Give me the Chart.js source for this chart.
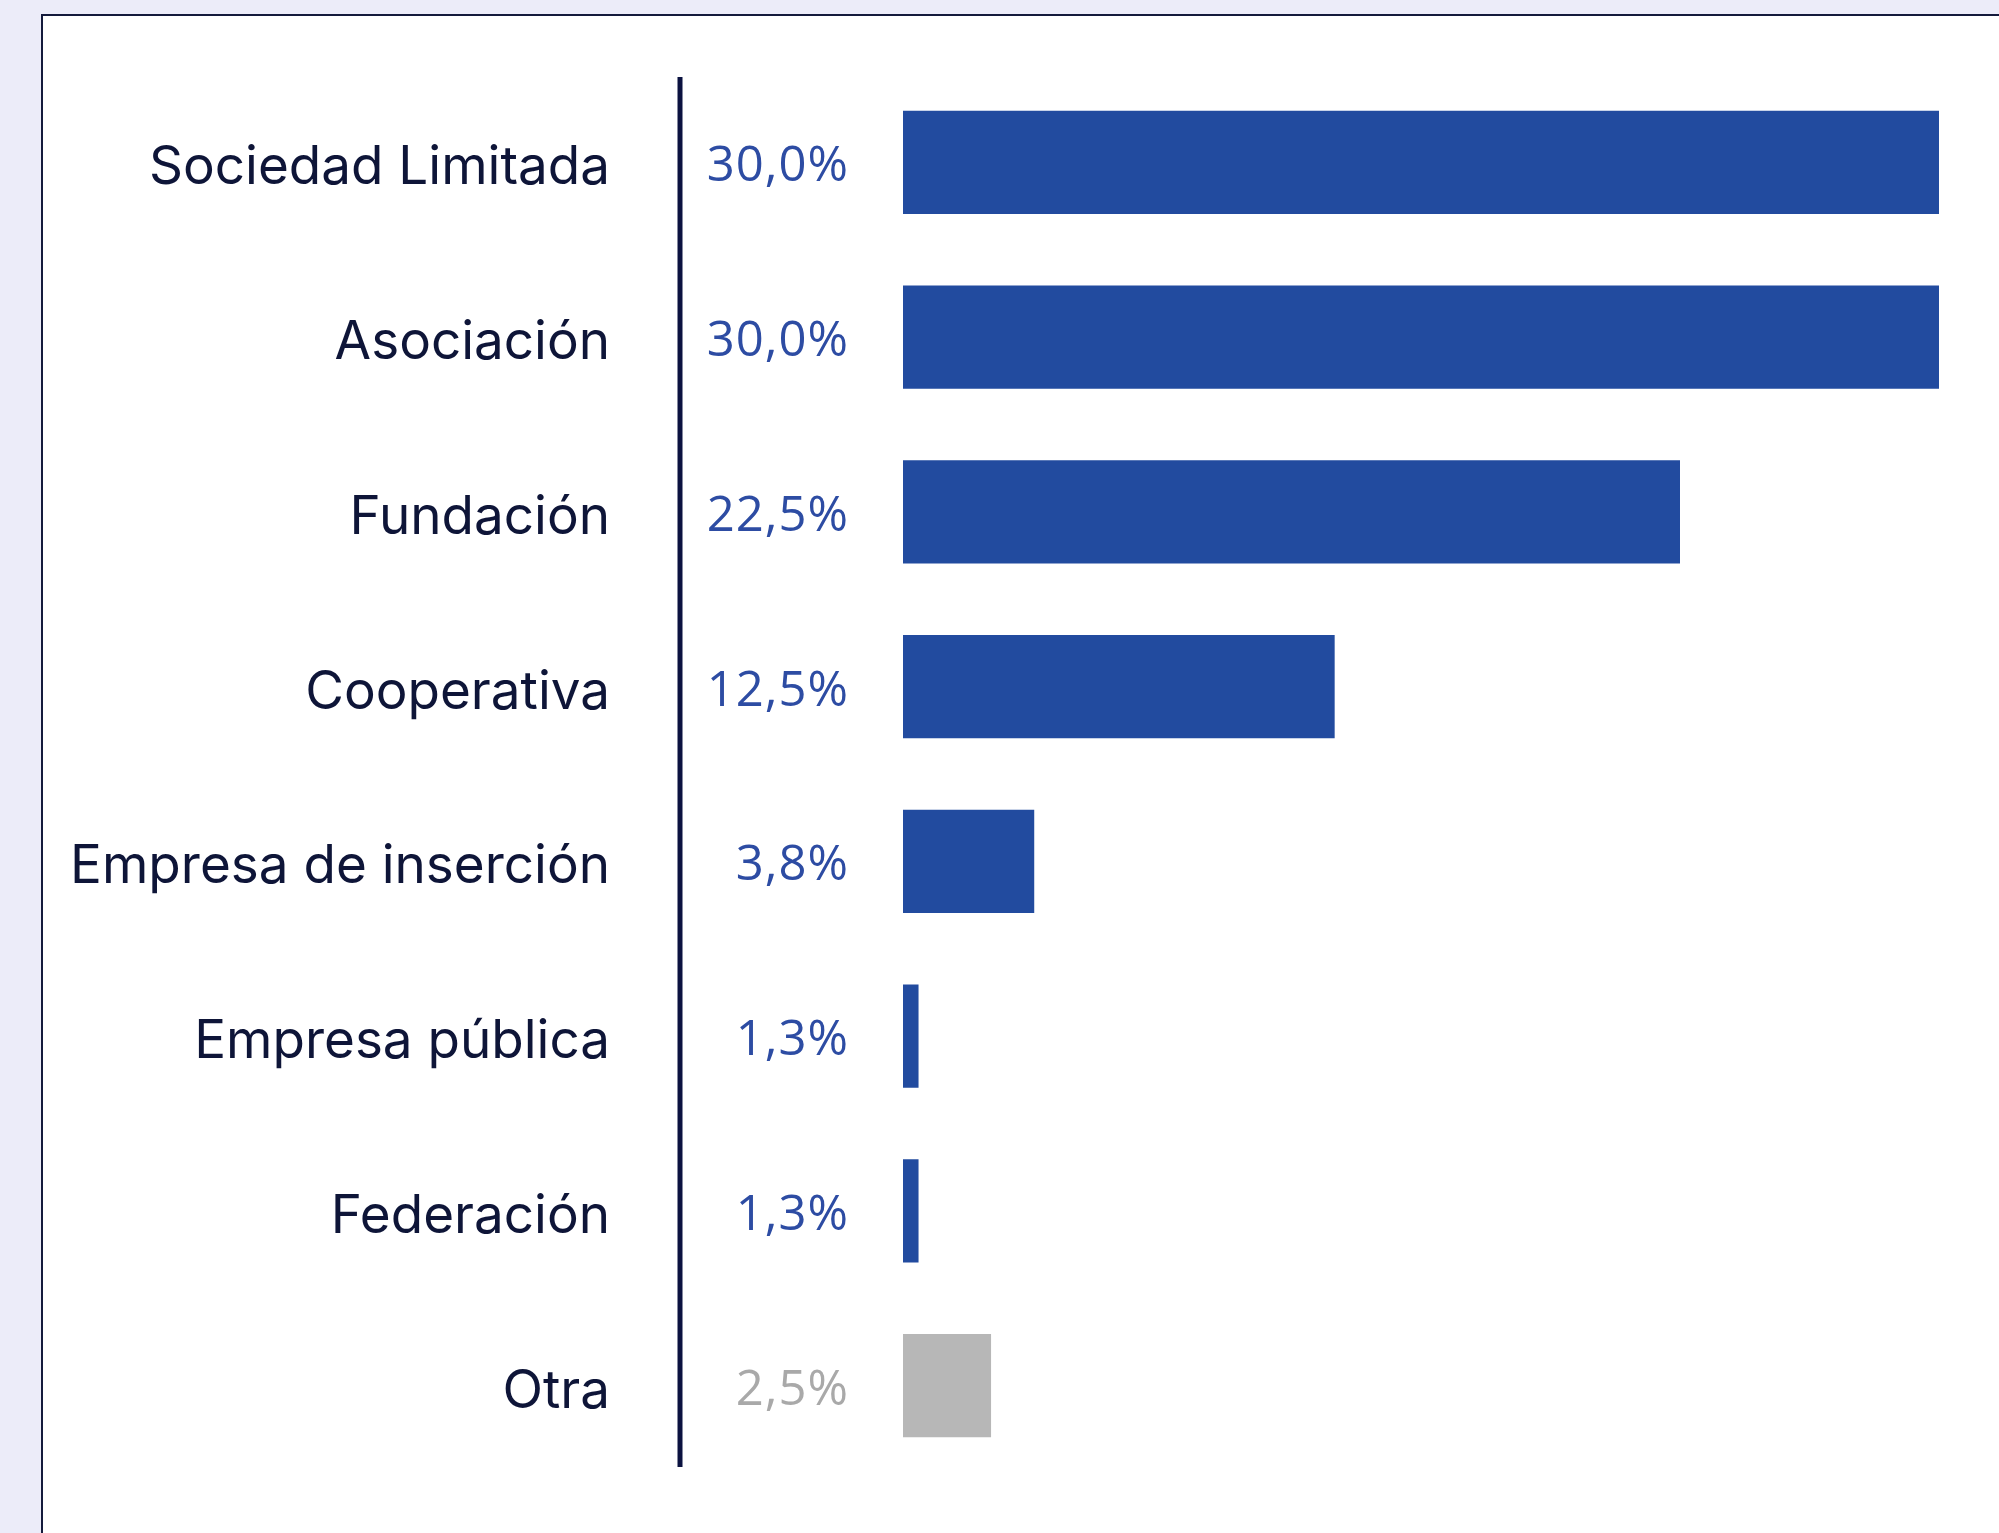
<!DOCTYPE html>
<html>
<head>
<meta charset="utf-8">
<script src="https://cdn.jsdelivr.net/npm/chart.js@4.4.1/dist/chart.umd.min.js"></script>
<style>
	html, body { margin: 0; padding: 0; }
	body { width: 1999px; height: 1533px; background: #ececf9; position: relative; overflow: hidden; }
	.card { position: absolute; left: 41px; top: 14px; width: 2100px; height: 1600px; background: #fff; border: 2px solid #141a3c; }
	#chart { position: absolute; left: 0; top: 0; }
</style>
</head>
<body>
<div class="card"></div>
<canvas id="chart" width="1999" height="1533"></canvas>
<script>
// categorías (forma jurídica)
const categories = ['Sociedad Limitada', 'Asociación', 'Fundación', 'Cooperativa', 'Empresa de inserción', 'Empresa pública', 'Federación', 'Otra'];
// porcentaje mostrado en el texto
const shares = [30.0, 30.0, 22.5, 12.5, 3.8, 1.3, 1.3, 2.5];
// longitud de barra tal como aparece dibujada
const barLengths = [30.0, 30.0, 22.5, 12.5, 3.8, 0.45, 0.45, 2.55];
const barColors = ['#224b9f', '#224b9f', '#224b9f', '#224b9f', '#224b9f', '#224b9f', '#224b9f', '#b7b7b7'];
const labelColors = ['#2d4ca3', '#2d4ca3', '#2d4ca3', '#2d4ca3', '#2d4ca3', '#2d4ca3', '#2d4ca3', '#a9a9a9'];

const AXIS_X = 680;
const NAME_RIGHT = 612;
const VALUE_RIGHT = 848;

function fmt(v){
	return v.toFixed(1).replace('.', ',') + '%';
}

/** nombres, línea vertical y etiquetas de porcentaje */
const extrasPlugin = {
	id: 'extras',
	afterDatasetsDraw(chart){
		const ctx = chart.ctx;
		const area = chart.chartArea;
		const yScale = chart.scales.y;
		ctx.save();
		ctx.strokeStyle = '#0b1240';
		ctx.lineWidth = 5;
		ctx.beginPath();
		ctx.moveTo(AXIS_X, area.top + 2);
		ctx.lineTo(AXIS_X, area.bottom - 6);
		ctx.stroke();

		ctx.textAlign = 'right';
		ctx.textBaseline = 'middle';
		// nombres de categoría
		ctx.font = '53px Inter';
		ctx.fillStyle = '#0e1538';
		categories.forEach((c, i) => {
			ctx.fillText(c, NAME_RIGHT - 2, yScale.getPixelForTick(i) + 6);
		});
		// porcentajes
		const meta = chart.getDatasetMeta(0);
		ctx.font = '49px "Open Sans"';
		ctx.letterSpacing = '1px';
		meta.data.forEach((bar, i) => {
			ctx.fillStyle = labelColors[i];
			ctx.fillText(fmt(shares[i]), VALUE_RIGHT + 1, bar.y + 5);
		});
		ctx.restore();
	}
};

new Chart(document.getElementById('chart').getContext('2d'), {
	type: 'bar',
	data: {
		labels: categories,
		datasets: [{
			data: barLengths,
			backgroundColor: barColors,
			borderWidth: 0,
			categoryPercentage: 1,
			barPercentage: 0.59
		}]
	},
	options: {
		indexAxis: 'y',
		responsive: false,
		animation: false,
		layout: { padding: { top: 75, bottom: 60, left: 0, right: 60 } },
		plugins: { legend: { display: false }, tooltip: { enabled: false } },
		scales: {
			x: { display: false, min: 0, max: 30 },
			y: {
				afterFit(scale){ scale.width = 903; },
				border: { display: false },
				grid: { display: false, drawTicks: false },
				ticks: { display: false }
			}
		}
	},
	plugins: [extrasPlugin]
});
</script>
</body>
</html>
